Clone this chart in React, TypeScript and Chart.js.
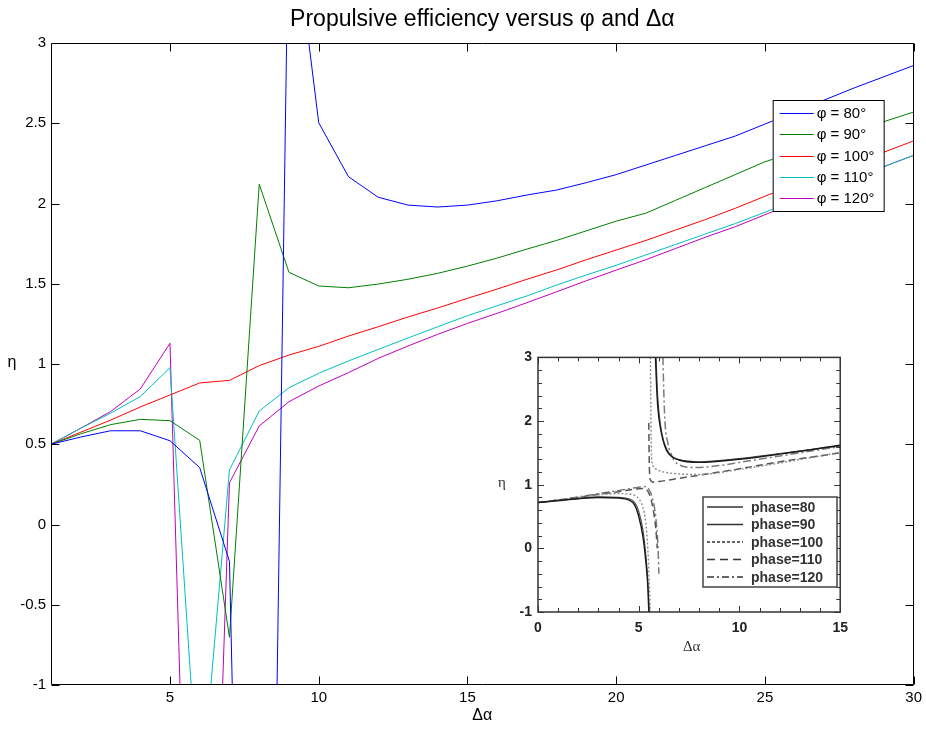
import React, { useEffect, useRef } from 'react';
import { Chart, registerables } from 'chart.js';

Chart.register(...registerables);

// ---------- main chart data ----------
const deltaAlpha = [1, 2, 3, 4, 5, 6, 7, 8, 9, 10, 11, 12, 13, 14, 15, 16, 17, 18, 19, 20, 21, 22, 23, 24, 25, 26, 27, 28, 29, 30];
const phi80 = [0.5, 0.545, 0.584, 0.584, 0.522, 0.354, -0.23, -8.5, 4.0, 2.503, 2.167, 2.039, 1.99, 1.978, 1.99, 2.017, 2.053, 2.084, 2.13, 2.18, 2.24, 2.3, 2.36, 2.42, 2.495, 2.57, 2.645, 2.72, 2.79, 2.86];
const phi90 = [0.5, 0.565, 0.622, 0.655, 0.647, 0.524, -0.703, 2.12, 1.571, 1.486, 1.475, 1.498, 1.528, 1.565, 1.61, 1.66, 1.716, 1.77, 1.83, 1.89, 1.94, 2.02, 2.1, 2.18, 2.26, 2.32, 2.38, 2.44, 2.51, 2.57];
const phi100 = [0.5, 0.575, 0.65, 0.732, 0.807, 0.882, 0.898, 0.99, 1.056, 1.11, 1.174, 1.232, 1.293, 1.349, 1.409, 1.467, 1.528, 1.586, 1.65, 1.71, 1.77, 1.835, 1.9, 1.97, 2.045, 2.12, 2.19, 2.25, 2.32, 2.39];
const phi110 = [0.5, 0.6, 0.693, 0.797, 0.977, -1.8, 0.34, 0.707, 0.852, 0.942, 1.019, 1.091, 1.162, 1.232, 1.301, 1.363, 1.424, 1.492, 1.555, 1.615, 1.68, 1.745, 1.81, 1.875, 1.945, 2.02, 2.09, 2.16, 2.23, 2.3];
const phi120 = [0.5, 0.6, 0.703, 0.844, 1.129, -5.2, 0.26, 0.614, 0.765, 0.863, 0.946, 1.035, 1.112, 1.185, 1.253, 1.316, 1.382, 1.45, 1.519, 1.585, 1.65, 1.72, 1.79, 1.855, 1.93, 2.005, 2.08, 2.155, 2.23, 2.3];
const seriesNames = ['φ = 80°', 'φ = 90°', 'φ = 100°', 'φ = 110°', 'φ = 120°'];
const seriesColors = ['#0000ff', '#008000', '#ff0000', '#00bfbf', '#bf00bf'];
const mainXTicks = [5, 10, 15, 20, 25, 30];
const mainXTickLabels = ['5', '10', '15', '20', '25', '30'];
const mainYTicks = [-1, -0.5, 0, 0.5, 1, 1.5, 2, 2.5, 3];
const mainYTickLabels = ['-1', '-0.5', '0', '0.5', '1', '1.5', '2', '2.5', '3'];
const mainTitle = 'Propulsive efficiency versus φ and Δα';
const mainXTitle = 'Δα';
const mainYTitle = 'η';

// ---------- inset data ----------
const p80LowX = [0, 1, 2, 3, 4, 4.5, 4.8, 5.0, 5.2, 5.35, 5.45, 5.5];
const p80LowY = [0.72, 0.75, 0.78, 0.8, 0.79, 0.76, 0.68, 0.5, 0.2, -0.2, -0.6, -1.0];
const p80UpX = [5.83, 5.88, 5.95, 6.1, 6.3, 6.5, 6.9, 8, 10, 12, 15];
const p80UpY = [3.0, 2.6, 2.2, 1.85, 1.6, 1.48, 1.4, 1.35, 1.4, 1.48, 1.62];
const p90LowX = [0, 1, 2, 3, 4, 4.5, 4.8, 5.0, 5.2, 5.35, 5.45, 5.52];
const p90LowY = [0.72, 0.75, 0.785, 0.81, 0.8, 0.78, 0.72, 0.58, 0.3, -0.1, -0.5, -1.0];
const p90UpX = [5.86, 5.92, 6.0, 6.15, 6.4, 6.7, 7.5, 8, 10, 12, 15];
const p90UpY = [3.0, 2.5, 2.15, 1.8, 1.55, 1.43, 1.37, 1.36, 1.41, 1.49, 1.61];
const p100LowX = [0, 1, 2, 3, 4, 4.6, 5.0, 5.2, 5.35, 5.45, 5.52, 5.57];
const p100LowY = [0.72, 0.76, 0.8, 0.84, 0.86, 0.85, 0.78, 0.65, 0.4, 0.0, -0.5, -1.0];
const p100UpX = [5.58, 5.6, 5.63, 5.7, 5.9, 6.12, 6.94, 8, 10, 12, 15];
const p100UpY = [3.0, 2.2, 1.5, 1.3, 1.24, 1.21, 1.17, 1.16, 1.24, 1.34, 1.51];
const p110LowX = [0, 1, 2, 3, 4, 4.8, 5.2, 5.45, 5.6, 5.75, 5.85, 5.92];
const p110LowY = [0.72, 0.76, 0.8, 0.85, 0.89, 0.93, 0.94, 0.9, 0.78, 0.55, 0.3, 0.0];
const p110UpX = [5.5, 5.51, 5.53, 5.57, 5.7, 6, 7, 8, 10, 12, 15];
const p110UpY = [1.97, 1.6, 1.25, 1.08, 1.04, 1.05, 1.1, 1.15, 1.25, 1.36, 1.5];
const p120LowX = [0, 1, 2, 3, 4, 5, 5.3, 5.5, 5.65, 5.8, 5.9, 5.96, 6.0];
const p120LowY = [0.72, 0.76, 0.81, 0.86, 0.91, 0.96, 0.97, 0.93, 0.82, 0.6, 0.3, 0.0, -0.4];
const p120UpX = [6.2, 6.24, 6.3, 6.45, 6.65, 6.9, 7.75, 9, 10, 12, 15];
const p120UpY = [3.0, 2.5, 2.0, 1.65, 1.45, 1.33, 1.27, 1.3, 1.35, 1.45, 1.6];
const insetNames = ['phase=80', 'phase=90', 'phase=100', 'phase=110', 'phase=120'];
const insetXTicks = [0, 1, 2, 3, 4, 5, 6, 7, 8, 9, 10, 11, 12, 13, 14, 15];
const insetXLabels = ['0', '', '', '', '', '5', '', '', '', '', '10', '', '', '', '', '15'];
const insetYTicks = [-1, -0.8, -0.6, -0.4, -0.2, 0, 0.2, 0.4, 0.6, 0.8, 1, 1.2, 1.4, 1.6, 1.8, 2, 2.2, 2.4, 2.6, 2.8, 3];
const insetYLabels = ['-1', '', '', '', '', '0', '', '', '', '', '1', '', '', '', '', '2', '', '', '', '', '3'];

const SANS = '"Liberation Sans", Arial, sans-serif';
const SERIF = '"Liberation Serif", "Times New Roman", serif';

const insetStyles = [
  { color: '#1a1a1a', dash: [] as number[], width: 1.4, legendDash: [] as number[] },
  { color: '#4a4a4a', dash: [] as number[], width: 1.2, legendDash: [] as number[] },
  { color: '#8c8c8c', dash: [2, 2], width: 1.4, legendDash: [3, 2] },
  { color: '#555555', dash: [7, 4], width: 1.5, legendDash: [8, 5] },
  { color: '#7a7a7a', dash: [8, 3, 2, 3], width: 1.5, legendDash: [7, 3, 2, 3] },
];

const mainDecor = {
  id: 'mainDecor',
  afterDraw(chart: any) {
    const { ctx, chartArea: a, scales } = chart;
    const xs = scales.x;
    const ys = scales.y;
    ctx.save();
    ctx.strokeStyle = '#000';
    ctx.lineWidth = 1;
    const L = Math.round(a.left) + 0.5;
    const R = Math.round(a.right) - 0.5;
    const T = Math.round(a.top) + 0.5;
    const B = Math.round(a.bottom) - 0.5;
    ctx.beginPath();
    ctx.rect(L, T, R - L, B - T);
    ctx.stroke();
    const tl = 8;
    ctx.beginPath();
    xs.ticks.forEach((t: any) => {
      const p = Math.round(xs.getPixelForValue(t.value)) + 0.5;
      ctx.moveTo(p, B); ctx.lineTo(p, B - tl);
      ctx.moveTo(p, T); ctx.lineTo(p, T + tl);
    });
    ys.ticks.forEach((t: any) => {
      const p = Math.round(ys.getPixelForValue(t.value)) + 0.5;
      ctx.moveTo(L, p); ctx.lineTo(L + tl, p);
      ctx.moveTo(R, p); ctx.lineTo(R - tl, p);
    });
    ctx.stroke();

    // titles
    ctx.fillStyle = '#000';
    ctx.textAlign = 'center';
    ctx.textBaseline = 'middle';
    ctx.font = `23px ${SANS}`;
    ctx.fillText(mainTitle, (a.left + a.right) / 2, 20);
    ctx.font = `16px ${SANS}`;
    ctx.fillText(mainXTitle, (a.left + a.right) / 2, 716);
    ctx.fillText(mainYTitle, 12, 363);

    // legend
    const lx = a.right - 141;
    const ly = a.top + 57;
    const lw = 111;
    const lh = 111;
    ctx.fillStyle = '#fff';
    ctx.fillRect(lx, ly, lw, lh);
    ctx.strokeStyle = '#000';
    ctx.lineWidth = 1;
    ctx.strokeRect(lx + 0.5, ly + 0.5, lw, lh);
    ctx.font = `15px ${SANS}`;
    ctx.textAlign = 'left';
    chart.data.datasets.forEach((ds: any, i: number) => {
      const yy = ly + 13 + i * 21.3;
      ctx.strokeStyle = ds.borderColor;
      ctx.lineWidth = 1;
      ctx.beginPath();
      ctx.moveTo(lx + 7, Math.round(yy) + 0.5);
      ctx.lineTo(lx + 41, Math.round(yy) + 0.5);
      ctx.stroke();
      ctx.fillStyle = '#000';
      ctx.fillText(ds.label, lx + 44, yy + 1);
    });
    ctx.restore();
  },
};

const insetDecor = {
  id: 'insetDecor',
  beforeDraw(chart: any) {
    const { ctx, width, height } = chart;
    ctx.save();
    ctx.fillStyle = '#fff';
    ctx.fillRect(0, 0, width, height);
    ctx.restore();
  },
  afterDraw(chart: any) {
    const { ctx, chartArea: a, scales } = chart;
    const xs = scales.x;
    const ys = scales.y;
    ctx.save();
    ctx.strokeStyle = '#333';
    ctx.lineWidth = 1.5;
    ctx.strokeRect(a.left, a.top, a.right - a.left, a.bottom - a.top);
    ctx.lineWidth = 1;
    ctx.beginPath();
    xs.ticks.forEach((t: any, i: number) => {
      const tl = insetXLabels[i] ? 6 : 4;
      const p = Math.round(xs.getPixelForValue(t.value)) + 0.5;
      ctx.moveTo(p, a.bottom); ctx.lineTo(p, a.bottom - tl);
      ctx.moveTo(p, a.top); ctx.lineTo(p, a.top + tl);
    });
    ys.ticks.forEach((t: any, i: number) => {
      const tl = insetYLabels[i] ? 6 : 4;
      const p = Math.round(ys.getPixelForValue(t.value)) + 0.5;
      ctx.moveTo(a.left, p); ctx.lineTo(a.left + tl, p);
      ctx.moveTo(a.right, p); ctx.lineTo(a.right - tl, p);
    });
    ctx.stroke();

    ctx.fillStyle = '#333';
    ctx.textAlign = 'center';
    ctx.textBaseline = 'middle';
    ctx.font = `15px ${SERIF}`;
    ctx.fillText('Δα', 691.7 - 488, 646.7 - 343);
    ctx.fillText('η', 502 - 488, 483 - 343);

    // legend
    const lx = 703 - 488;
    const ly = 497 - 343;
    const lw = 134;
    const lh = 90;
    ctx.fillStyle = '#fff';
    ctx.fillRect(lx, ly, lw, lh);
    ctx.strokeStyle = '#444';
    ctx.lineWidth = 1.5;
    ctx.strokeRect(lx, ly, lw, lh);
    ctx.font = `bold 14px ${SANS}`;
    ctx.textAlign = 'left';
    insetNames.forEach((nm, i) => {
      const yy = ly + 10 + i * 17.5;
      const st = insetStyles[i];
      ctx.strokeStyle = '#333';
      ctx.lineWidth = 1.3;
      ctx.setLineDash(st.legendDash);
      ctx.beginPath();
      ctx.moveTo(lx + 4, yy);
      ctx.lineTo(lx + 40, yy);
      ctx.stroke();
      ctx.setLineDash([]);
      ctx.fillStyle = '#333';
      ctx.fillText(nm, lx + 48, yy + 1);
    });
    ctx.restore();
  },
};

function pts(xs: number[], ys: number[]) {
  return xs.map((x, i) => ({ x, y: ys[i] }));
}

export default function App() {
  const mainRef = useRef<HTMLCanvasElement | null>(null);
  const insetRef = useRef<HTMLCanvasElement | null>(null);

  useEffect(() => {
    const series = [phi80, phi90, phi100, phi110, phi120];
    const main = new Chart(mainRef.current as HTMLCanvasElement, {
      type: 'line',
      data: {
        datasets: series.map((vals, i) => ({
          label: seriesNames[i],
          data: deltaAlpha.map((x, j) => ({ x, y: vals[j] })),
          borderColor: seriesColors[i],
          backgroundColor: seriesColors[i],
          borderWidth: 1,
          pointRadius: 0,
          tension: 0,
          fill: false,
        })),
      },
      options: {
        responsive: false,
        animation: false,
        events: [],
        layout: { padding: { top: 43, right: 12, left: 0, bottom: 0 } },
        plugins: { legend: { display: false }, title: { display: false }, tooltip: { enabled: false } },
        scales: {
          x: {
            type: 'linear',
            min: 1,
            max: 30,
            grid: { display: false, drawTicks: false, tickLength: 0 },
            border: { display: false },
            afterBuildTicks: (s: any) => { s.ticks = mainXTicks.map((v) => ({ value: v })); },
            afterFit: (s: any) => { s.height = 44; },
            ticks: {
              autoSkip: false, maxRotation: 0, minRotation: 0, padding: 4, color: '#000',
              font: { family: SANS, size: 15 },
              callback: (_v: any, i: number) => mainXTickLabels[i],
            },
          },
          y: {
            type: 'linear',
            min: -1,
            max: 3,
            grid: { display: false, drawTicks: false, tickLength: 0 },
            border: { display: false },
            afterBuildTicks: (s: any) => { s.ticks = mainYTicks.map((v) => ({ value: v })); },
            afterFit: (s: any) => { s.width = 51; },
            ticks: {
              autoSkip: false, padding: 5, color: '#000',
              font: { family: SANS, size: 15 },
              callback: (_v: any, i: number) => mainYTickLabels[i],
            },
          },
        },
      } as any,
      plugins: [mainDecor],
    });

    const branches = [
      [p80LowX, p80LowY, 0], [p80UpX, p80UpY, 0],
      [p90LowX, p90LowY, 1], [p90UpX, p90UpY, 1],
      [p100LowX, p100LowY, 2], [p100UpX, p100UpY, 2],
      [p110LowX, p110LowY, 3], [p110UpX, p110UpY, 3],
      [p120LowX, p120LowY, 4], [p120UpX, p120UpY, 4],
    ] as [number[], number[], number][];

    const inset = new Chart(insetRef.current as HTMLCanvasElement, {
      type: 'line',
      data: {
        datasets: branches.map(([bx, by, si]) => ({
          label: insetNames[si],
          data: pts(bx, by),
          borderColor: insetStyles[si].color,
          borderDash: insetStyles[si].dash,
          borderWidth: insetStyles[si].width,
          pointRadius: 0,
          cubicInterpolationMode: 'monotone',
          fill: false,
        })),
      },
      options: {
        responsive: false,
        animation: false,
        events: [],
        layout: { padding: { top: 12, right: 11, left: 0, bottom: 0 } },
        plugins: { legend: { display: false }, title: { display: false }, tooltip: { enabled: false } },
        scales: {
          x: {
            type: 'linear', min: 0, max: 15,
            grid: { display: false, drawTicks: false, tickLength: 0 }, border: { display: false },
            afterBuildTicks: (s: any) => { s.ticks = insetXTicks.map((v) => ({ value: v })); },
            afterFit: (s: any) => { s.height = 49; },
            ticks: {
              autoSkip: false, maxRotation: 0, minRotation: 0, padding: 8, color: '#222',
              font: { family: SANS, size: 14, weight: 'bold' },
              callback: (_v: any, i: number) => insetXLabels[i],
            },
          },
          y: {
            type: 'linear', min: -1, max: 3,
            grid: { display: false, drawTicks: false, tickLength: 0 }, border: { display: false },
            afterBuildTicks: (s: any) => { s.ticks = insetYTicks.map((v) => ({ value: v })); },
            afterFit: (s: any) => { s.width = 50; },
            ticks: {
              autoSkip: false, padding: 6, color: '#222',
              font: { family: SANS, size: 14, weight: 'bold' },
              callback: (_v: any, i: number) => insetYLabels[i],
            },
          },
        },
      } as any,
      plugins: [insetDecor],
    });

    return () => {
      main.destroy();
      inset.destroy();
    };
  }, []);

  return (
    <div style={{ position: 'absolute', left: 0, top: 0, width: 926, height: 729, background: '#fff' }}>
      <canvas ref={mainRef} width={926} height={729} style={{ position: 'absolute', left: 0, top: 0, width: 926, height: 729 }} />
      <canvas ref={insetRef} width={368} height={318} style={{ position: 'absolute', left: 488, top: 343, width: 368, height: 318 }} />
    </div>
  );
}
